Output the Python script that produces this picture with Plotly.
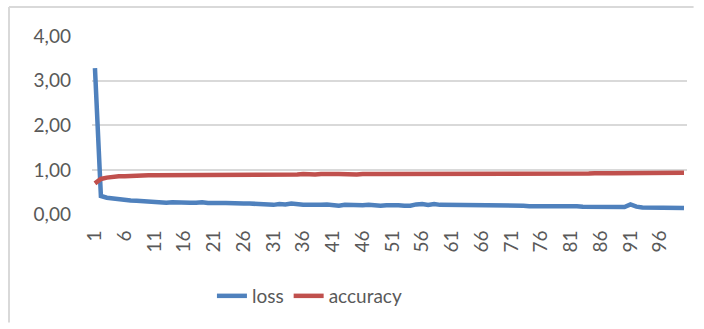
import plotly.graph_objects as go

# Epoch index and per-epoch training metrics
epochs = list(range(1, 101))

loss = [
    3.28, 0.42, 0.38, 0.36, 0.34, 0.33, 0.32, 0.31, 0.30, 0.29,
    0.28, 0.28, 0.27, 0.28, 0.27, 0.27, 0.27, 0.27, 0.28, 0.26,
    0.25, 0.26, 0.26, 0.25, 0.26, 0.25, 0.25, 0.24, 0.25, 0.23,
    0.22, 0.24, 0.23, 0.25, 0.23, 0.22, 0.22, 0.21, 0.22, 0.23,
    0.21, 0.20, 0.22, 0.21, 0.22, 0.21, 0.22, 0.20, 0.20, 0.21,
    0.22, 0.21, 0.20, 0.20, 0.23, 0.24, 0.22, 0.24, 0.22, 0.22,
    0.21, 0.22, 0.21, 0.22, 0.21, 0.22, 0.21, 0.22, 0.21, 0.21,
    0.20, 0.20, 0.20, 0.19, 0.19, 0.20, 0.21, 0.20, 0.21, 0.19,
    0.19, 0.19, 0.18, 0.18, 0.18, 0.18, 0.18, 0.18, 0.17, 0.17,
    0.23, 0.18, 0.16, 0.16, 0.16, 0.17, 0.16, 0.16, 0.16, 0.15,
]

accuracy = [
    0.70, 0.80, 0.83, 0.85, 0.86, 0.86, 0.87, 0.87, 0.87, 0.88,
    0.88, 0.88, 0.88, 0.88, 0.88, 0.89, 0.88, 0.88, 0.88, 0.89,
    0.90, 0.89, 0.90, 0.89, 0.90, 0.90, 0.90, 0.90, 0.90, 0.90,
    0.89, 0.90, 0.89, 0.89, 0.90, 0.91, 0.90, 0.90, 0.91, 0.90,
    0.91, 0.91, 0.90, 0.91, 0.90, 0.91, 0.90, 0.91, 0.91, 0.91,
    0.91, 0.91, 0.91, 0.91, 0.91, 0.90, 0.90, 0.90, 0.90, 0.91,
    0.91, 0.91, 0.90, 0.91, 0.91, 0.91, 0.91, 0.91, 0.91, 0.91,
    0.91, 0.91, 0.91, 0.91, 0.91, 0.92, 0.92, 0.91, 0.91, 0.92,
    0.92, 0.92, 0.92, 0.92, 0.93, 0.92, 0.93, 0.93, 0.93, 0.92,
    0.93, 0.93, 0.93, 0.93, 0.93, 0.93, 0.94, 0.94, 0.94, 0.94,
]

x_ticks = list(range(1, 101, 5))
y_ticks = [0, 1, 2, 3, 4]

FONT = "Lato, Noto Sans, sans-serif"
GRAY = "#595959"
GRID = "#d9d9d9"
FSIZE = 19

fig = go.Figure()
fig.add_trace(go.Scatter(
    x=epochs, y=loss, name="loss", mode="lines",
    line=dict(color="#4f81bd", width=4.5),
))
fig.add_trace(go.Scatter(
    x=epochs, y=accuracy, name="accuracy", mode="lines",
    line=dict(color="#c0504d", width=4.5),
))

# chart frame: top and left edges only, stopping short of the far sides
frame = dict(color=GRID, width=2)
fig.add_shape(type="line", xref="paper", yref="paper",
              x0=0, x1=0.985, y0=1, y1=1, line=frame)
fig.add_shape(type="line", xref="paper", yref="paper",
              x0=0, x1=0, y0=0.02, y1=1, line=frame)

fig.update_layout(
    width=704, height=329,
    margin=dict(l=9, r=0, t=7, b=0, autoexpand=False),
    paper_bgcolor="white", plot_bgcolor="white",
    separators=",.",
    font=dict(family=FONT, size=FSIZE, color=GRAY),
    showlegend=True,
    legend=dict(
        orientation="h", x=0.433, xanchor="center", y=0.1025, yanchor="middle",
        font=dict(family=FONT, size=FSIZE, color=GRAY),
        itemwidth=30, tracegroupgap=0,
    ),
    xaxis=dict(
        domain=[0.1194, 0.9755],
        range=[0.5, 100.5], tickmode="array", tickvals=x_ticks,
        ticktext=[str(v) for v in x_ticks], tickangle=-90,
        showgrid=False, zeroline=False, showline=False, ticks="",
        ticklabelstandoff=11,
        tickfont=dict(family=FONT, size=FSIZE, color=GRAY),
    ),
    yaxis=dict(
        domain=[0.355, 0.91],
        range=[0, 4], tickmode="array", tickvals=y_ticks, tickformat=".2f",
        showgrid=True, gridcolor=GRID, gridwidth=1.5, zeroline=False,
        showline=False, ticks="", ticklabelstandoff=20,
        tickfont=dict(family=FONT, size=FSIZE, color=GRAY),
    ),
)

fig.write_html("out.html")
